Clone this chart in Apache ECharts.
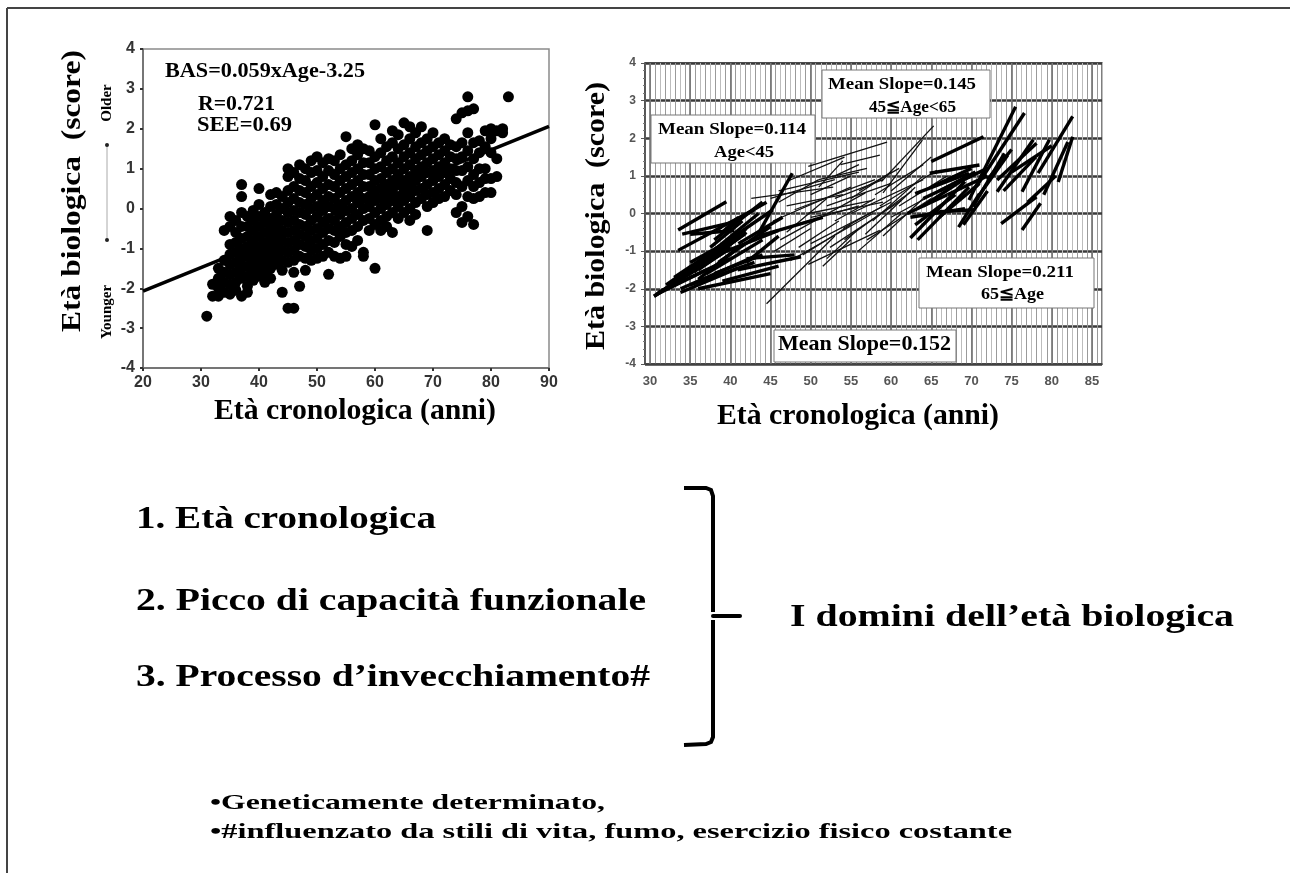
<!DOCTYPE html>
<html><head><meta charset="utf-8">
<script src="https://cdn.jsdelivr.net/npm/echarts@6/dist/echarts.min.js"></script>
<style>html,body{margin:0;padding:0;background:#fff;}#c{width:1290px;height:873px;}</style>
</head><body><div id="c"></div>
<script>
// ---------- data ----------
const leftXTicks = [20, 30, 40, 50, 60, 70, 80, 90];
const rightXLabels = [30, 35, 40, 45, 50, 55, 60, 65, 70, 75, 80, 85];
const rightMajorX = [30, 35, 40, 45, 50, 55, 60, 65, 70, 75, 80, 85];
const scatterAges = [31,32,33,34,35,36,37,38,39,40,41,42,43,44,45,46,47,48,49,50,51,52,53,54,55,56,57,58,59,60,61,62,63,64,65,66,67,68,69,70,71,72,73,74,75,76,77,78,79,80,81,82,83];
const scatterScores = [
 [-2.7],
 [-2.2,-1.9],
 [-1.75,-2.0,-2.2,-1.5],
 [-0.55,-1.3,-1.6,-1.85,-2.1],
 [-0.2,-0.45,-0.9,-1.15,-1.4,-1.65,-1.9,-2.15],
 [-0.3,-0.6,-0.85,-1.1,-1.35,-1.6,-1.85,-2.05],
 [0.6,0.3,-0.1,-0.45,-0.75,-1.0,-1.25,-1.5,-1.75,-2.2],
 [-0.2,-0.45,-0.7,-0.95,-1.2,-1.45,-1.7,-1.95,-2.1],
 [-0.05,-0.3,-0.55,-0.8,-1.05,-1.3,-1.55,-1.8],
 [0.5,0.1,-0.2,-0.45,-0.7,-0.95,-1.2,-1.45,-1.7],
 [-0.1,-0.35,-0.6,-0.85,-1.1,-1.35,-1.6,-1.85],
 [0.35,0.05,-0.25,-0.5,-0.75,-1.0,-1.25,-1.5,-1.75],
 [0.4,0.1,-0.15,-0.4,-0.65,-0.9,-1.15,-1.4],
 [0.3,0.0,-0.3,-0.55,-0.8,-1.05,-1.3,-1.55,-2.1],
 [1.0,0.8,0.45,0.15,-0.1,-0.35,-0.6,-0.85,-1.1,-1.35,-2.5],
 [0.9,0.55,0.25,-0.05,-0.3,-0.55,-0.8,-1.05,-1.3,-1.6,-2.5],
 [1.1,0.75,0.45,0.15,-0.1,-0.4,-0.65,-0.9,-1.2,-1.95],
 [1.0,0.7,0.4,0.1,-0.15,-0.45,-0.7,-0.95,-1.25,-1.55],
 [1.2,0.9,0.55,0.25,0.0,-0.3,-0.55,-0.8,-1.05,-1.3],
 [1.3,0.95,0.65,0.35,0.05,-0.2,-0.5,-0.75,-1.0,-1.25],
 [1.15,0.8,0.5,0.2,-0.05,-0.35,-0.6,-0.9,-1.2],
 [1.25,0.95,0.6,0.3,0.05,-0.25,-0.5,-0.8,-1.1,-1.65],
 [1.2,0.85,0.55,0.25,0.0,-0.3,-0.55,-0.85,-1.2],
 [1.35,1.0,0.7,0.4,0.1,-0.15,-0.45,-0.7,-1.25],
 [1.8,1.1,0.8,0.5,0.2,-0.05,-0.35,-0.6,-0.9,-1.2],
 [1.5,1.2,0.9,0.6,0.3,0.0,-0.25,-0.55,-0.95],
 [1.6,1.35,1.0,0.7,0.4,0.15,-0.15,-0.45,-0.8],
 [1.5,1.15,0.85,0.55,0.25,0.0,-0.3,-1.1,-1.2],
 [1.45,1.15,0.85,0.55,0.3,0.05,-0.25,-0.55],
 [2.1,1.3,1.0,0.7,0.45,0.2,-0.1,-0.4,-1.5],
 [1.75,1.4,1.05,0.75,0.5,0.25,0.0,-0.3,-0.55],
 [1.55,1.2,0.9,0.6,0.35,0.1,-0.2,-0.45],
 [1.95,1.65,1.3,1.0,0.7,0.45,0.2,-0.1,-0.6],
 [1.85,1.5,1.15,0.85,0.6,0.3,0.05,-0.25],
 [2.15,1.6,1.3,1.0,0.7,0.45,0.2,-0.1],
 [2.05,1.75,1.4,1.1,0.8,0.55,0.3,0.0,-0.3],
 [1.9,1.55,1.25,0.95,0.7,0.45,0.15,-0.15],
 [2.05,1.65,1.35,1.05,0.8,0.5,0.25],
 [1.75,1.45,1.15,0.9,0.6,0.35,0.05,-0.55],
 [1.9,1.55,1.25,0.95,0.7,0.4,0.15],
 [1.65,1.35,1.05,0.8,0.5,0.25],
 [1.75,1.45,1.15,0.9,0.6,0.3],
 [1.6,1.3,1.0,0.75,0.45],
 [2.25,1.55,1.25,0.95,0.65,0.35,-0.1],
 [2.4,1.65,1.3,0.95,0.55,0.05,-0.35],
 [2.8,2.45,1.9,1.45,1.05,0.7,0.3,-0.2],
 [2.5,1.65,1.25,0.85,0.55,0.25,-0.4],
 [1.7,1.4,1.0,0.65,0.3],
 [1.95,1.55,1.0,0.75,0.4],
 [2.0,1.75,1.4,0.75,0.4],
 [1.95,1.25,0.8],
 [2.0,1.9],
 [2.8]
];
const regressionLine = [[20, -2.07], [90, 2.06]];
// longitudinal segments [age1, score1, age2, score2]
const youngSegments = [
 [30.5,-2.2,41.8,-0.55],[30.5,-2.2,39.5,-1.0],[30.8,-2.15,37,-1.5],[33.8,-2.1,41,-1.45],
 [33.8,-2.0,43.5,-1.1],[33.5,-0.98,38.9,-0.36],[33.5,-0.44,39.5,0.31],[35,-0.55,40.5,-0.45],
 [35.5,-1.55,42,-0.4],[36,-1.75,41,-0.9],[36.4,-1.25,43.5,0.0],[37.3,-1.07,45.3,0.1],
 [37,-1.6,44,-0.7],[38,-0.7,44,0.3],[38.5,-1.3,45,-0.35],[39,-0.5,41,-0.1],
 [40.9,-1.5,48.8,-1.15],[43.5,-0.53,47.7,1.07],[43.5,-0.6,51.5,-0.1],[39.5,-1.0,46,-0.45],
 [40,-0.25,44.5,0.3],[42,-1.3,46,-0.6],
 [31,-2.1,40,-1.2],[32,-1.9,38,-1.0],[33,-1.7,40,-0.7],[34,-1.6,39,-0.9],
 [35,-1.3,41,-0.6],[35,-1.9,43,-1.3],[36,-1.5,40,-0.9],[37,-1.3,42,-0.5],
 [37.5,-0.9,41.5,-0.2],[38,-1.6,44,-1.1],[38.5,-0.4,43,0.1],[39,-1.8,46,-1.4],
 [36,-2.0,45,-1.6],[34,-0.55,40,-0.25],[41,-0.8,46.5,-0.1],[42,-1.2,48,-1.1]
];
const middleSegments = [
 [44.5,-2.4,53,-0.6],[42.6,0.4,52.8,0.7],[47,0.85,54.2,1.5],[49.7,1.25,59.5,1.9],
 [53.7,1.3,58.6,1.55],[58.8,0.85,65.3,2.33],[59,0.55,63.9,1.95],[45.3,-0.2,55,0.7],
 [46.2,-0.7,56.8,0.55],[47.5,-1.25,57.7,0.0],[49.7,-1.35,58.6,-0.45],[51.5,-1.4,55,-0.7],
 [52.4,-0.9,61.3,0.35],[54.2,-0.7,62.6,0.6],[55.9,-1.0,61.3,0.0],[56.8,-0.55,63,0.7],
 [57.7,-0.2,64,1.0],[58.6,0.2,65.7,1.15],[49.7,0.0,57.7,0.35],[48,-0.3,56,0.2],
 [50,0.5,55,1.0],[46,0.3,51,0.9],[52,0.2,60,0.8],[53,-0.2,58,0.4],
 [48.5,-0.9,53.5,-0.2],[55,0.4,60,1.1],[60,-0.1,66,0.6],[61,0.2,67,1.0],
 [45,0.4,53,0.9],[46,0.6,56,1.1],[47,-0.5,52,0.4],[48,0.1,58,0.9],
 [50,-0.8,60,0.3],[51,0.7,54,1.4],[52,-1.2,56,-0.4],[53,0.4,59,0.9],
 [54,-0.4,59,0.2],[55,0.0,64,0.9],[56,0.6,61,1.2],[57,-0.7,65,0.4],
 [58,0.5,64,1.3],[59,-0.6,64,0.4],[60,0.6,65,1.5],[50,-0.1,59,0.3],
 [47,0.2,54,0.5],[49,-1.1,55,-0.3],[51,0.9,57,1.2],[45.5,-1.0,50,-0.4],[53,1.0,56,1.3]
];
const oldSegments = [
 [62.4,-0.65,69.2,0.85],[63.3,-0.7,69.7,0.7],[62.4,-0.1,69.2,0.13],[66,0.05,70.5,0.1],
 [65,1.38,71.5,2.04],[64.8,1.07,71,1.29],[63,0.53,69.7,1.07],[64,0.2,69,0.9],
 [68.4,-0.36,71,0.53],[69.7,0.36,75.5,2.84],[70.6,0.71,76.6,2.67],[70.2,0.18,74.1,1.6],
 [73.2,0.58,77.7,1.96],[73.7,-0.27,78.1,0.44],[76.3,-0.44,78.6,0.27],[76.3,0.58,79.7,1.96],
 [78.3,1.07,82.6,2.58],[80.8,0.84,82.6,2.04],[73.2,0.89,78.1,1.87],[66,0.6,70.5,1.1],
 [62,0.0,67,0.5],[63,-0.3,68,0.5],[64,0.4,70,1.0],[65,0.7,70,1.2],
 [66,-0.1,71,0.8],[67,0.5,72,1.0],[68,0.8,72,1.2],[69,-0.3,72,0.6],
 [71,0.5,74.5,1.55],[72,0.9,75,1.7],[74,0.6,78,1.5],[77,0.3,80.5,1.0],
 [79,0.5,82,1.9],[75,1.1,80,1.8]
];

// ---------- build ----------
const scatterData = [];
scatterAges.forEach((a, i) => scatterScores[i].forEach(s => scatterData.push([a, s])));
const toCoords = arr => arr.map(s => ({ coords: [[s[0], s[1]], [s[2], s[3]]] }));
const majorLines = rightMajorX.map(v => ({ coords: [[v, -4], [v, 4]] }));

const SERIF = '"Liberation Serif","Times New Roman",serif';
const mctx = document.createElement('canvas').getContext('2d');
function txt(text, x, y, size, targetW, align, rot, weight) {
  const font = (weight || 'bold') + ' ' + size + 'px ' + SERIF;
  mctx.font = font;
  const w = mctx.measureText(text).width;
  const sx = targetW ? targetW / w : 1;
  return {
    type: 'text', x: x, y: y, z: 100, rotation: rot || 0, scaleX: sx,
    style: { text: text, font: font, fill: '#000', textAlign: align || 'left', textVerticalAlign: 'middle' }
  };
}
function box(x, y, w, h) {
  return { type: 'rect', z: 90, shape: { x: x, y: y, width: w, height: h },
    style: { fill: '#fff', stroke: '#777', lineWidth: 1 } };
}

const graphics = [
  { type: 'line', z: 100, shape: { x1: 7, y1: 8, x2: 1290, y2: 8 }, style: { stroke: '#444', lineWidth: 2 } },
  { type: 'line', z: 100, shape: { x1: 7, y1: 8, x2: 7, y2: 873 }, style: { stroke: '#444', lineWidth: 2 } },
  // left chart texts
  txt('Età biologica  (score)', 73, 191, 28, 282, 'center', Math.PI / 2),
  txt('Older', 107, 103, 15, 0, 'center', Math.PI / 2),
  txt('Younger', 107, 312, 15, 0, 'center', Math.PI / 2),
  { type: 'line', z: 100, shape: { x1: 107, y1: 145, x2: 107, y2: 240 }, style: { stroke: '#aaa', lineWidth: 1 } },
  { type: 'circle', z: 100, shape: { cx: 107, cy: 145, r: 2 }, style: { fill: '#222' } },
  { type: 'circle', z: 100, shape: { cx: 107, cy: 240, r: 2 }, style: { fill: '#222' } },
  txt('BAS=0.059xAge-3.25', 165, 72, 21, 200),
  txt('R=0.721', 198, 105, 21, 77),
  txt('SEE=0.69', 197, 126, 21, 95),
  txt('Età cronologica (anni)', 355, 412, 29, 282, 'center'),
  // right chart texts
  txt('Età biologica  (score)', 597, 216, 27, 268, 'center', Math.PI / 2),
  txt('Età cronologica (anni)', 858, 417, 29, 282, 'center'),
  box(822, 70, 168, 48),
  txt('Mean Slope=0.145', 828, 85, 17, 148),
  txt('45≦Age<65', 869, 108, 17, 87),
  box(651, 115, 164, 48),
  txt('Mean Slope=0.114', 658, 130, 17, 148),
  txt('Age<45', 714, 153, 17, 60),
  box(919, 258, 175, 50),
  txt('Mean Slope=0.211', 926, 273, 17, 148),
  txt('65≦Age', 981, 295, 17, 63),
  box(774, 330, 182, 32),
  txt('Mean Slope=0.152', 778, 345, 21, 173),
  // lower text block
  txt('1. Età cronologica', 136, 520, 32, 300),
  txt('2. Picco di capacità funzionale', 136, 602, 32, 510),
  txt('3. Processo d’invecchiamento#', 136, 678, 32, 514),
  { type: 'polyline', z: 100, shape: { points: [[684, 488], [706, 488], [711, 490], [713, 496], [713, 612]] },
    style: { stroke: '#000', lineWidth: 4, fill: null } },
  { type: 'polyline', z: 100, shape: { points: [[713, 620], [713, 737], [711, 742], [706, 744], [684, 745]] },
    style: { stroke: '#000', lineWidth: 4, fill: null } },
  { type: 'line', z: 100, shape: { x1: 713, y1: 616, x2: 740, y2: 616 }, style: { stroke: '#000', lineWidth: 4, lineCap: 'round' } },
  txt('I domini dell’età biologica', 790, 618, 32, 444),
  txt('•Geneticamente determinato,', 210, 803, 22, 395),
  txt('•#influenzato da stili di vita, fumo, esercizio fisico costante', 210, 832, 22, 802)
];

const chart = echarts.init(document.getElementById('c'), null, { renderer: 'canvas' });
chart.setOption({
  animation: false,
  backgroundColor: '#fff',
  grid: [
    { left: 143, top: 49, width: 406, height: 319, show: true, borderColor: '#8a8a8a', borderWidth: 1.5, backgroundColor: 'transparent' },
    { left: 645, top: 63, width: 457, height: 301, show: true, borderColor: '#555', borderWidth: 1.5, backgroundColor: 'transparent' }
  ],
  xAxis: [
    { gridIndex: 0, type: 'value', min: 20, max: 90, interval: 10,
      axisLine: { show: true, onZero: false, lineStyle: { color: '#666', width: 1.5 } },
      axisTick: { show: true, length: 3, lineStyle: { color: '#333', width: 2 } },
      axisLabel: { fontFamily: '"Liberation Sans",Arial', fontWeight: 'bold', fontSize: 16, color: '#333', margin: 7 },
      splitLine: { show: false } },
    { gridIndex: 1, type: 'value', min: 29.375, max: 86.25, interval: 0.625,
      axisLine: { show: true, onZero: false, lineStyle: { color: '#444', width: 1.5 } },
      axisTick: { show: false },
      axisLabel: { customValues: rightXLabels, fontFamily: '"Liberation Sans",Arial', fontWeight: 'bold', fontSize: 13, color: '#555', margin: 11 },
      splitLine: { show: true, lineStyle: { color: ['#9a9a9a', '#bdbdbd'], width: 1 } } }
  ],
  yAxis: [
    { gridIndex: 0, type: 'value', min: -4, max: 4, interval: 1,
      axisLine: { show: true, onZero: false, lineStyle: { color: '#666', width: 1.5 } },
      axisTick: { show: true, length: 3, lineStyle: { color: '#333', width: 2 } },
      axisLabel: { fontFamily: '"Liberation Sans",Arial', fontWeight: 'bold', fontSize: 16, color: '#333', margin: 8 },
      splitLine: { show: false } },
    { gridIndex: 1, type: 'value', min: -4, max: 4, interval: 1,
      axisLine: { show: true, onZero: false, lineStyle: { color: '#444', width: 1.5 } },
      axisTick: { show: true, length: 4, lineStyle: { color: '#555' } },
      minorTick: { show: true, splitNumber: 5, length: 2, lineStyle: { color: '#777' } },
      axisLabel: { fontFamily: '"Liberation Sans",Arial', fontWeight: 'bold', fontSize: 12, color: '#555', margin: 9 },
      splitLine: { show: true, lineStyle: { color: '#3a3a3a', width: 2.5 } } }
  ],
  series: [
    { type: 'scatter', xAxisIndex: 0, yAxisIndex: 0, data: scatterData, symbolSize: 11,
      itemStyle: { color: '#000', opacity: 1 }, silent: true },
    { type: 'line', xAxisIndex: 0, yAxisIndex: 0, data: regressionLine, symbol: 'none',
      lineStyle: { color: '#000', width: 3.5 }, silent: true },
    { type: 'lines', coordinateSystem: 'cartesian2d', xAxisIndex: 1, yAxisIndex: 1, data: majorLines,
      lineStyle: { color: '#666', width: 1.5, opacity: 1 }, silent: true },
    { type: 'lines', coordinateSystem: 'cartesian2d', xAxisIndex: 1, yAxisIndex: 1, data: toCoords(middleSegments),
      lineStyle: { color: '#111', width: 1.3, opacity: 1 }, silent: true },
    { type: 'lines', coordinateSystem: 'cartesian2d', xAxisIndex: 1, yAxisIndex: 1, data: toCoords(youngSegments),
      lineStyle: { color: '#000', width: 3.4, opacity: 1 }, silent: true },
    { type: 'lines', coordinateSystem: 'cartesian2d', xAxisIndex: 1, yAxisIndex: 1, data: toCoords(oldSegments),
      lineStyle: { color: '#000', width: 3.4, opacity: 1 }, silent: true }
  ],
  graphic: graphics
});
</script>
</body></html>
